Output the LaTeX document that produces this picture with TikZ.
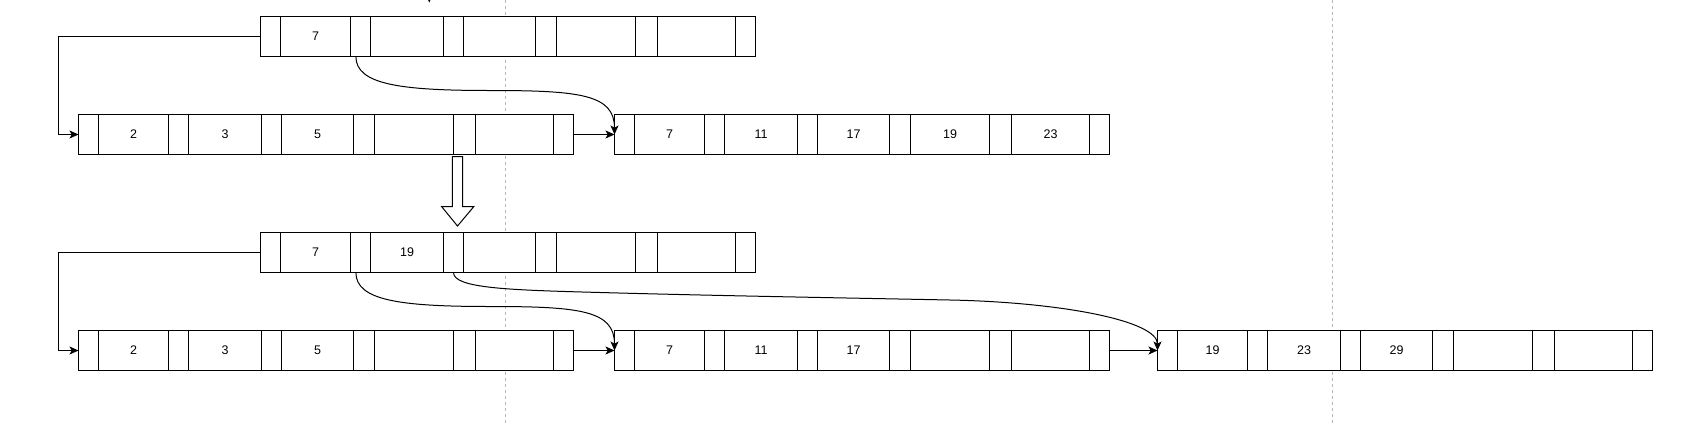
\documentclass[tikz,border=0pt]{standalone}
\usepackage{fontspec}
\setmainfont{Liberation Sans}
\usetikzlibrary{arrows.meta,calc}
\tikzset{
  cell/.style={draw, fill=white, line width=1.1pt, minimum height=40pt, inner sep=0pt, outer sep=0pt, font=\fontsize{12.5}{14}\selectfont},
  conn/.style={line width=1pt, -{Stealth[length=9pt,width=8pt,inset=2.2pt]}},
  gridline/.style={black!28, line width=0.8pt, dash pattern=on 3pt off 3pt},
  blockarrow/.style={draw, fill=white, line width=1pt, line join=miter},
}
% #1 name, #2 left x, #3 centre y, #4-#8 keys
\newcommand\bprow[8]{%
  \node[cell,minimum width=20pt] (#1p0) at (#2+10,#3) {};
  \node[cell,minimum width=70pt] (#1k1) at (#2+55,#3) {#4};
  \node[cell,minimum width=20pt] (#1p1) at (#2+100,#3) {};
  \node[cell,minimum width=73pt] (#1k2) at (#2+146.5,#3) {#5};
  \node[cell,minimum width=20pt] (#1p2) at (#2+193,#3) {};
  \node[cell,minimum width=72pt] (#1k3) at (#2+239,#3) {#6};
  \node[cell,minimum width=21pt] (#1p3) at (#2+285.5,#3) {};
  \node[cell,minimum width=79pt] (#1k4) at (#2+335.5,#3) {#7};
  \node[cell,minimum width=22pt] (#1p4) at (#2+386,#3) {};
  \node[cell,minimum width=78pt] (#1k5) at (#2+436,#3) {#8};
  \node[cell,minimum width=20pt] (#1p5) at (#2+485,#3) {};
}
\begin{document}
\begin{tikzpicture}[x=1pt,y=-1pt]
\useasboundingbox (0,0) rectangle (1684,426);
% guide lines
\draw[gridline] (505.3,0) -- (505.3,426);
\draw[gridline] (1332.3,0) -- (1332.3,426);
% rows
\bprow{A}{260.5}{36.5}{7}{}{}{}{}
\bprow{Bl}{78.5}{134.5}{2}{3}{5}{}{}
\bprow{Br}{614.5}{134.5}{7}{11}{17}{19}{23}
\bprow{C}{260.5}{252.5}{7}{19}{}{}{}
\bprow{Dl}{78.5}{350.5}{2}{3}{5}{}{}
\bprow{Dm}{614.5}{350.5}{7}{11}{17}{}{}
\bprow{Dr}{1157.5}{350.5}{19}{23}{29}{}{}
% cut-off arrow at the top
\begin{scope}
  \clip (0,0) rectangle (1684,426);
  \coordinate (topin) at (429.3,-40);
  \coordinate (toptip) at (429.3,2.5);
  \draw[conn] (topin) -- (toptip);
\end{scope}
% upper tree connectors
\draw[conn] (Ap0.west) -| ([xshift=-20pt]Blp0.west) -- (Blp0.west);
\draw[conn] (Blp5.east) -- (Brp0.west);
\coordinate (m1) at (490,90.5);
\draw[conn] ([xshift=-4.6pt]Ap1.south) .. controls +(0,28) and +(-90,0) .. (m1)
  .. controls +(90,0) and +(0,-40) .. (Brp0.west);
% block arrow
\draw[blockarrow] (452.3,156.7) -- (462.7,156.7) -- (462.7,206.7) -- (473.7,206.7)
  -- (457.5,226) -- (441.7,206.7) -- (452.3,206.7) -- cycle;
% lower tree connectors
\draw[conn] (Cp0.west) -| ([xshift=-20pt]Dlp0.west) -- (Dlp0.west);
\draw[conn] (Dlp5.east) -- (Dmp0.west);
\draw[conn] (Dmp5.east) -- (Drp0.west);
\coordinate (m2) at (490,306.5);
\draw[conn] ([xshift=-4.6pt]Cp1.south) .. controls +(0,28) and +(-90,0) .. (m2)
  .. controls +(90,0) and +(0,-40) .. (Dmp0.west);
\coordinate (m3) at (600,292.5);
\coordinate (m4) at (950,300);
\draw[conn] (Cp2.south) .. controls +(0,16) and +(-90,-2.5) .. (m3)
  .. controls +(120,3.3) and +(-100,-2) .. (m4)
  .. controls +(110,2.2) and +(0,-30) .. (Drp0.west);
\end{tikzpicture}
\end{document}
